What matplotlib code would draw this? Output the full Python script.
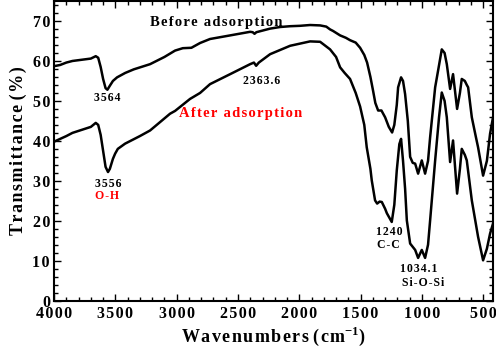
import numpy as np
import matplotlib
matplotlib.use("Agg")
import matplotlib.pyplot as plt
from matplotlib.ticker import MultipleLocator, FuncFormatter

# FTIR spectra (wavenumber cm-1, transmittance %)
wn_before = [4000, 3950, 3900, 3850, 3800, 3750, 3700, 3660, 3640, 3620, 3600, 3580, 3565,
             3545, 3520, 3486, 3420, 3350, 3217, 3100, 3013, 2950, 2880, 2809, 2728, 2564,
             2401, 2380, 2365, 2350, 2238, 2157, 2075, 1994, 1912, 1830, 1780, 1749, 1724,
             1667, 1620, 1586, 1540, 1504, 1470, 1447, 1420, 1398, 1380, 1357, 1330, 1300,
             1270, 1243, 1225, 1205, 1194, 1170, 1154, 1137, 1115, 1096, 1075, 1055, 1031,
             1001, 974, 950, 933, 892, 860, 838, 815, 797, 770, 746, 713, 690, 675, 650,
             634, 623, 593, 560, 542, 501, 470, 444, 420]
t_before = [58.7, 59.0, 59.6, 60.0, 60.2, 60.4, 60.6, 61.2, 60.8, 58.5, 55.5, 53.2, 52.8,
            53.8, 55.0, 55.9, 57.0, 57.9, 59.2, 61.0, 62.6, 63.2, 63.3, 64.5, 65.5, 66.4,
            67.3, 67.2, 66.8, 67.2, 68.1, 68.5, 68.7, 68.8, 69.0, 68.9, 68.6, 67.9, 67.5,
            66.4, 65.8, 65.2, 64.6, 63.3, 61.5, 59.6, 56.0, 52.5, 49.5, 47.6, 47.6, 45.9,
            43.5, 42.1, 44.0, 49.0, 53.4, 55.9, 55.0, 51.7, 45.0, 36.0, 34.5, 34.3, 31.8,
            35.1, 31.8, 35.0, 40.9, 53.4, 59.0, 62.9, 62.0, 59.2, 53.0, 56.7, 48.0, 52.0,
            55.5, 55.0, 54.0, 53.4, 45.9, 41.0, 38.4, 31.3, 35.0, 41.8, 45.9]

wn_after = [4000, 3950, 3900, 3850, 3800, 3750, 3700, 3660, 3640, 3620, 3600, 3580, 3560,
            3545, 3520, 3502, 3480, 3421, 3300, 3217, 3054, 3013, 2891, 2809, 2728, 2564,
            2401, 2370, 2352, 2330, 2238, 2075, 1912, 1830, 1749, 1700, 1667, 1630, 1586,
            1540, 1504, 1470, 1450, 1420, 1409, 1382, 1365, 1345, 1327, 1300, 1286, 1246,
            1225, 1205, 1184, 1170, 1154, 1137, 1123, 1096, 1055, 1031, 1001, 974, 950,
            933, 892, 860, 838, 815, 797, 770, 746, 713, 690, 675, 650, 634, 593, 542,
            501, 470, 444, 420]
t_after = [39.8, 40.5, 41.2, 42.0, 42.5, 43.0, 43.5, 44.5, 44.0, 41.5, 37.5, 33.5, 32.2,
           33.0, 35.5, 36.8, 38.0, 39.3, 41.2, 42.6, 46.8, 47.5, 50.5, 52.0, 54.2, 56.7,
           59.2, 59.6, 58.8, 59.6, 61.7, 63.8, 64.9, 64.8, 62.9, 61.0, 58.4, 57.0, 55.5,
           52.0, 48.6, 44.0, 38.4, 33.0, 30.1, 25.1, 24.3, 24.8, 24.7, 23.0, 21.9, 19.7,
           24.0, 32.6, 39.2, 40.5, 35.0, 28.0, 20.1, 14.3, 12.7, 10.7, 12.7, 10.7, 14.0,
           20.1, 35.1, 46.0, 52.1, 50.0, 45.9, 34.7, 40.1, 26.8, 33.0, 38.0, 36.5, 35.1,
           25.1, 16.0, 10.1, 13.0, 16.8, 19.3]

plt.rcParams['font.family'] = ['Liberation Serif', 'DejaVu Serif']
plt.rcParams['font.weight'] = 'bold'
plt.rcParams['mathtext.fontset'] = 'custom'
plt.rcParams['mathtext.rm'] = 'Liberation Serif:bold'
plt.rcParams['mathtext.bf'] = 'Liberation Serif:bold'


def spaced(s):
    # wide letter spacing like the original figure
    return '\u200a'.join(s)


fig = plt.figure(figsize=(4.96, 3.48), dpi=100)
ax = fig.add_axes([0.109, 0.136, 0.885, 0.861])

ax.plot(wn_before, t_before, color='black', lw=1.8)
ax.plot(wn_after, t_after, color='black', lw=1.8)

ax.set_xlim(4000, 420)
ax.set_ylim(0, 75)
ax.xaxis.set_major_locator(MultipleLocator(500))
ax.xaxis.set_minor_locator(MultipleLocator(100))
ax.yaxis.set_major_locator(MultipleLocator(10))
ax.yaxis.set_minor_locator(MultipleLocator(2))
ax.xaxis.set_major_formatter(FuncFormatter(lambda v, p: spaced('%d' % v)))
ax.yaxis.set_major_formatter(FuncFormatter(lambda v, p: spaced('%d' % v)))
ax.tick_params(which='both', direction='in', top=True, right=True, width=1)
ax.tick_params(which='major', length=5, labelsize=11.5)
ax.tick_params(axis='x', which='major', pad=4)
ax.tick_params(axis='y', which='major', pad=3)
ax.tick_params(which='minor', length=3)
for s in ax.spines.values():
    s.set_linewidth(1.5)

ax.set_xlabel(spaced('Wavenumbers') + ' ' + spaced('(cm') + r'$^{\mathrm{-1}}$' + ')',
              fontsize=13, fontweight='bold', labelpad=2)
ax.set_ylabel(spaced('Transmittance') + ' ' + spaced('(%)'), fontsize=13,
              fontweight='bold', labelpad=4)

ax.text(2680, 69.7, spaced('Before adsorption'), fontsize=10.5, ha='center', va='center')
ax.text(2480, 46.8, spaced('After adsorption'), fontsize=10.5, ha='center', va='center',
        color='red')
ax.text(3564, 50.8, spaced('3564'), fontsize=8.5, ha='center', va='center')
ax.text(2310, 55.0, spaced('2363.6'), fontsize=8.5, ha='center', va='center')
ax.text(3556, 29.3, spaced('3556'), fontsize=8.5, ha='center', va='center')
ax.text(3565, 26.1, spaced('O-H'), fontsize=8.5, ha='center', va='center', color='red')
ax.text(1266, 17.2, spaced('1240'), fontsize=8.5, ha='center', va='center')
ax.text(1270, 13.9, spaced('C-C'), fontsize=8.5, ha='center', va='center')
ax.text(1030, 7.9, spaced('1034.1'), fontsize=8.5, ha='center', va='center')
ax.text(990, 4.5, spaced('Si-O-Si'), fontsize=8.5, ha='center', va='center')

fig.savefig('out.png', dpi=100)
